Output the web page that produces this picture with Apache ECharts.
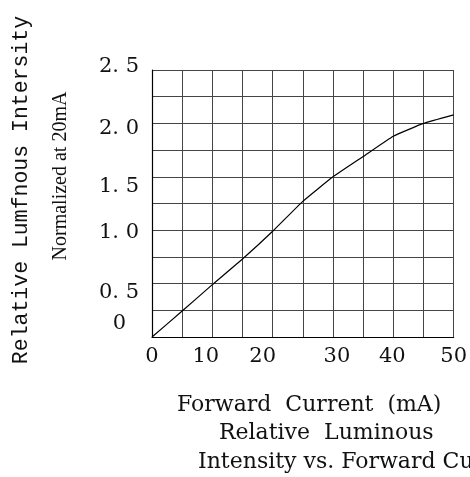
<!DOCTYPE html>
<html>
<head>
<meta charset="utf-8">
<script src="https://cdn.jsdelivr.net/npm/echarts@6/dist/echarts.min.js"></script>
<style>
html,body{margin:0;padding:0;background:#fff;}
#chart{width:470px;height:477px;}
</style>
</head>
<body>
<div id="chart"></div>
<script>
// Data
const currentMA = [0, 5, 10, 15, 20, 25, 30, 35, 40, 45, 50];
const relIntensity = [0, 0.243, 0.49, 0.73, 0.99, 1.27, 1.50, 1.69, 1.88, 2.0, 2.08];
const xTickValues = [0, 10, 20, 30, 40, 50];
const xTickLabels = ['0', '10', '20', '30', '40', '50'];
const yTickValues = [0, 0.5, 1.0, 1.5, 2.0, 2.5];
const yTickLabels = ['0', '0. 5', '1. 0', '1. 5', '2. 0', '2. 5'];
const yAxisTitle = 'Relative Lumfnous Intersity';
const ySubTitle = 'Normalized at 20mA';
const captionLines = ['Forward  Current  (mA)', 'Relative  Luminous', 'Intensity vs. Forward Current'];

// label placement styles (as in the scanned original)
const serif = 'DejaVu Serif';
const yLabelPads = [[0, 13, 26, 0], [18, 0, 0, 0], [4, 0, 0, 0], [20, 0, 0, 0], [10, 0, 0, 0], [0, 0, 6, 0]];
const xLabelPads = [[0, 0, 0, 0], [0, 13, 0, 0], [0, 20, 0, 0], [0, 0, 0, 8], [0, 2, 0, 0], [0, 0, 0, 0]];

function indexOfVal(vals, v) {
  for (let i = 0; i < vals.length; i++) if (Math.abs(vals[i] - v) < 1e-6) return i;
  return -1;
}
function richFrom(pads) {
  const r = {};
  pads.forEach((p, i) => { r['t' + i] = {fontFamily: serif, fontSize: 21, color: '#111', padding: p}; });
  return r;
}

const chart = echarts.init(document.getElementById('chart'), null, {renderer: 'canvas'});
chart.setOption({
  animation: false,
  backgroundColor: '#fff',
  grid: {left: 152, right: 14, top: 70, bottom: 140, containLabel: false},
  xAxis: {
    type: 'value', min: 0, max: 50, interval: 5,
    axisLine: {show: true, lineStyle: {color: '#000', width: 1.2}},
    axisTick: {show: false},
    axisLabel: {
      margin: 9, color: '#111', fontFamily: serif, fontSize: 21,
      formatter: v => { const i = indexOfVal(xTickValues, v); return i < 0 ? '' : '{t' + i + '|' + xTickLabels[i] + '}'; },
      rich: richFrom(xLabelPads)
    },
    splitLine: {show: true, lineStyle: {color: '#444', width: 1}}
  },
  yAxis: {
    type: 'value', min: 0, max: 2.5, interval: 0.25,
    axisLine: {show: true, lineStyle: {color: '#000', width: 1.2}},
    axisTick: {show: false},
    axisLabel: {
      margin: 13, color: '#111', fontFamily: serif, fontSize: 21,
      formatter: v => { const i = indexOfVal(yTickValues, v); return i < 0 ? '' : '{t' + i + '|' + yTickLabels[i] + '}'; },
      rich: richFrom(yLabelPads)
    },
    splitLine: {show: true, lineStyle: {color: '#444', width: 1}}
  },
  series: [{
    type: 'line',
    data: currentMA.map((x, i) => [x, relIntensity[i]]),
    smooth: 0.12,
    showSymbol: false,
    lineStyle: {color: '#000', width: 1.2}
  }],
  graphic: [
    {type: 'text', x: 21, y: 190, rotation: Math.PI / 2,
     style: {text: yAxisTitle, font: '21.5px "Liberation Mono"', fill: '#111', align: 'center', verticalAlign: 'middle'}},
    {type: 'text', x: 61, y: 176, rotation: Math.PI / 2,
     style: {text: ySubTitle, font: '20px "Liberation Serif"', fill: '#111', align: 'center', verticalAlign: 'middle'}},
    {type: 'text', x: 177, y: 405,
     style: {text: captionLines[0], font: '22px "DejaVu Serif"', fill: '#111', align: 'left', verticalAlign: 'middle'}},
    {type: 'text', x: 219, y: 433,
     style: {text: captionLines[1], font: '22px "DejaVu Serif"', fill: '#111', align: 'left', verticalAlign: 'middle'}},
    {type: 'text', x: 198, y: 462,
     style: {text: captionLines[2], font: '22px "DejaVu Serif"', fill: '#111', align: 'left', verticalAlign: 'middle'}}
  ]
});
</script>
</body>
</html>
